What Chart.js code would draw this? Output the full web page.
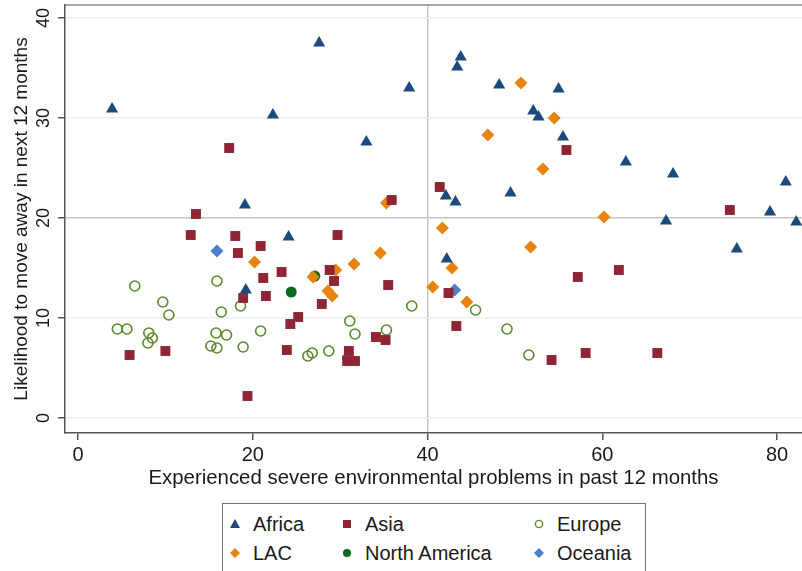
<!DOCTYPE html>
<html>
<head>
<meta charset="utf-8">
<script src="https://cdn.jsdelivr.net/npm/chart.js@4"></script>
<style>
  body { margin: 0; background: #fff; overflow: hidden; font-family: "Liberation Sans", Arial, sans-serif; }
  #wrap { position: relative; width: 802px; height: 571px; overflow: hidden; }
  #plot { position: absolute; left: 0; top: 0; }
  #legend { position: absolute; left: 222px; top: 503px; width: 424px; height: 90px;
    border: 1px solid #777; box-sizing: border-box; color: #1a1a1a; font-size: 20px; }
  .item { position: absolute; height: 22px; line-height: 22px; white-space: nowrap; }
  .mk { position: absolute; top: 5px; left: 0; }
  .lbl { position: absolute; left: 25px; top: 0; }
</style>
</head>
<body>
<div id="wrap">
  <canvas id="plot" width="802" height="500"></canvas>
  <div id="legend"></div>
</div>
<script>
// values: [x, y] per country
const africa = [
  [3.9, 30.9], [27.6, 37.5], [22.3, 30.3], [37.9, 33.0], [33.0, 27.6], [19.1, 21.3],
  [24.1, 18.1], [19.2, 12.8], [43.8, 36.1], [43.4, 35.1], [48.2, 33.3], [55.0, 32.9],
  [52.1, 30.7], [52.7, 30.1], [55.5, 28.1], [62.7, 25.6], [68.1, 24.4], [81.0, 23.6],
  [42.1, 22.2], [43.2, 21.6], [49.5, 22.5], [67.3, 19.7], [79.2, 20.6], [82.2, 19.6],
  [75.4, 16.9], [42.2, 15.9]
];
const asia = [
  [17.3, 27.0], [13.5, 20.4], [12.9, 18.3], [18.0, 18.2], [29.7, 18.3], [35.9, 21.8],
  [20.9, 17.2], [18.3, 16.5], [21.2, 14.0], [21.5, 12.2], [18.9, 12.0], [23.3, 14.6],
  [28.8, 14.8], [29.3, 13.7], [35.5, 13.3], [27.9, 11.4], [25.2, 10.1], [24.3, 9.4],
  [34.1, 8.1], [35.2, 7.8], [31.0, 6.7], [30.8, 5.7], [31.7, 5.7], [23.9, 6.8],
  [10.0, 6.7], [5.9, 6.3], [19.4, 2.2], [55.9, 26.8], [41.4, 23.1], [74.6, 20.8],
  [57.2, 14.1], [61.9, 14.8], [42.4, 12.5], [43.3, 9.2], [54.2, 5.8], [58.1, 6.5],
  [66.3, 6.5]
];
const lac = [
  [35.3, 21.5], [20.2, 15.6], [26.9, 14.1], [28.6, 12.7], [29.1, 12.2], [29.5, 14.8],
  [31.6, 15.4], [34.6, 16.5], [50.7, 33.5], [54.5, 30.0], [46.9, 28.3], [53.2, 24.9],
  [60.2, 20.1], [41.7, 19.0], [51.8, 17.1], [42.8, 15.0], [40.6, 13.1], [44.5, 11.6]
];
const europe = [
  [6.5, 13.2], [4.5, 8.9], [5.6, 8.9], [8.1, 8.5], [8.5, 8.0], [8.0, 7.5],
  [9.7, 11.6], [10.4, 10.3], [15.9, 13.7], [16.4, 10.6], [18.6, 11.2], [15.8, 8.5],
  [17.0, 8.3], [15.2, 7.2], [15.9, 7.0], [18.9, 7.1], [20.9, 8.7], [26.3, 6.2],
  [26.8, 6.5], [28.7, 6.7], [31.1, 9.7], [31.7, 8.4], [35.3, 8.8], [30.9, 6.0],
  [38.2, 11.2], [45.5, 10.8], [49.1, 8.9], [51.6, 6.3]
];
const northAmerica = [[27.1, 14.2], [24.4, 12.6]];
const oceania = [[15.9, 16.7], [43.1, 12.8]];

const xTitle = "Experienced severe environmental problems in past 12 months";
const yTitle = "Likelihood to move away in next 12 months";
const refX = 40;
const refY = 20;

const fam = '"Liberation Sans", Arial, sans-serif';
const ink = "#1a1a1a";

const series = [
  { label: "Africa", data: africa, style: "triangle", color: "#1c4a7c", radius: 7, fill: true },
  { label: "Asia", data: asia, style: "rect", color: "#8e2434", radius: 7, fill: true },
  { label: "Europe", data: europe, style: "circle", color: "#5a8a2c", radius: 5, fill: false },
  { label: "LAC", data: lac, style: "rectRot", color: "#e8830e", radius: 6.5, fill: true },
  { label: "North America", data: northAmerica, style: "circle", color: "#0b6b1d", radius: 5.5, fill: true },
  { label: "Oceania", data: oceania, style: "rectRot", color: "#4a7fcb", radius: 6.5, fill: true }
];

const datasets = series.map(s => ({
  label: s.label,
  data: s.data.map(p => ({ x: p[0], y: p[1] })),
  pointStyle: s.style,
  pointRadius: s.radius,
  pointHoverRadius: s.radius,
  pointBackgroundColor: s.fill ? s.color : "rgba(0,0,0,0)",
  pointBorderColor: s.color,
  pointBorderWidth: s.fill ? 0 : 1.6
}));

const topFrame = {
  id: "topFrame",
  beforeDatasetsDraw(chart) {
    const { ctx, chartArea } = chart;
    ctx.save();
    ctx.strokeStyle = "#8a8a8a";
    ctx.lineWidth = 1.5;
    ctx.beginPath();
    ctx.moveTo(chartArea.left, chartArea.top);
    ctx.lineTo(chartArea.right, chartArea.top);
    ctx.stroke();
    ctx.restore();
  }
};

new Chart(document.getElementById("plot"), {
  type: "scatter",
  data: { datasets },
  options: {
    responsive: false,
    animation: false,
    layout: { autoPadding: false, padding: { top: 5, right: 0, left: 0, bottom: 0 } },
    plugins: { legend: { display: false }, tooltip: { enabled: false } },
    scales: {
      x: {
        min: -1.49, max: 82.86,
        afterFit: s => { s.height = 67; s.paddingLeft = 0; s.paddingRight = 0; },
        border: { color: "#555", width: 1.5 },
        grid: {
          color: c => c.tick && c.tick.value === refX ? "#c6c6c6" : "rgba(0,0,0,0)",
          lineWidth: 1.5,
          tickColor: "#555", tickLength: 7
        },
        ticks: { stepSize: 20, includeBounds: false, color: ink, font: { family: fam, size: 20 }, padding: 3, maxRotation: 0 },
        title: { display: true, text: xTitle, color: ink, font: { family: fam, size: 20.4 }, padding: { top: 0, bottom: 9 } }
      },
      y: {
        min: -1.5, max: 41.3,
        afterFit: s => { s.width = 65; s.paddingTop = 0; s.paddingBottom = 0; },
        border: { color: "#555", width: 1.5 },
        grid: {
          color: c => c.tick && c.tick.value === refY ? "#c6c6c6" : "#e9f1f1",
          lineWidth: 1.5,
          tickColor: "#555", tickLength: 7
        },
        ticks: { stepSize: 10, includeBounds: false, color: ink, font: { family: fam, size: 18 }, padding: 4,
                 minRotation: 90, maxRotation: 90, crossAlign: "center" },
        title: { display: true, text: yTitle, color: ink, font: { family: fam, size: 19 }, padding: { top: 10, bottom: 0 } }
      }
    }
  },
  plugins: [topFrame]
});

// legend laid out in three columns like the original
const legendPos = {
  "Africa": [0, 0], "Asia": [1, 0], "Europe": [2, 0],
  "LAC": [0, 1], "North America": [1, 1], "Oceania": [2, 1]
};
const colLeft = [5, 117, 309];
const rowTop = [9, 38];
const legend = document.getElementById("legend");
series.forEach(s => {
  const [c, r] = legendPos[s.label];
  const item = document.createElement("div");
  item.className = "item";
  item.style.left = colLeft[c] + "px";
  item.style.top = rowTop[r] + "px";
  const mk = document.createElement("canvas");
  mk.className = "mk";
  mk.width = 14; mk.height = 12;
  const g = mk.getContext("2d");
  g.fillStyle = s.color; g.strokeStyle = s.color; g.lineWidth = 1.4;
  g.beginPath();
  if (s.style === "triangle") { g.moveTo(7, 1); g.lineTo(12, 10); g.lineTo(2, 10); g.closePath(); g.fill(); }
  else if (s.style === "rect") { g.rect(3, 2, 8, 8); g.fill(); }
  else if (s.style === "rectRot") { g.moveTo(7, 1); g.lineTo(12, 6); g.lineTo(7, 11); g.lineTo(2, 6); g.closePath(); g.fill(); }
  else { g.arc(7, 6, s.fill ? 4 : 3.6, 0, Math.PI * 2); s.fill ? g.fill() : g.stroke(); }
  const lbl = document.createElement("span");
  lbl.className = "lbl";
  lbl.textContent = s.label;
  item.appendChild(mk);
  item.appendChild(lbl);
  legend.appendChild(item);
});
</script>
</body>
</html>
